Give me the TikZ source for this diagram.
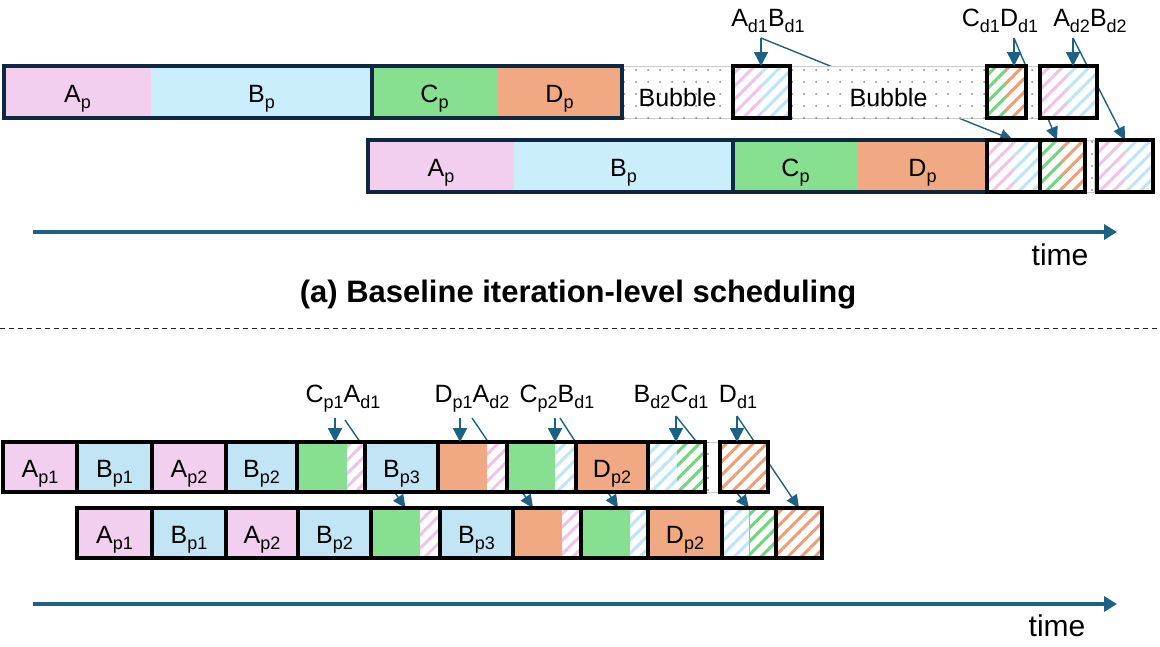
\documentclass[tikz,border=0pt]{standalone}
\usepackage{fontspec}
\setmainfont{Liberation Sans}
\usetikzlibrary{arrows.meta,patterns.meta,calc}
\definecolor{cpink}{HTML}{F2CEEF}
\definecolor{cblue}{HTML}{CAEEFB}
\definecolor{cblueb}{HTML}{C1E5F5}
\definecolor{cgreen}{HTML}{86E08F}
\definecolor{corange}{HTML}{F1A983}
\definecolor{hpink}{HTML}{EFC2EB}
\definecolor{hblue}{HTML}{BDE5F8}
\definecolor{hgreen}{HTML}{6ED77B}
\definecolor{horange}{HTML}{EF9E74}
\definecolor{navy}{HTML}{0E2841}
\definecolor{arr}{HTML}{1D6185}
\newcommand\lsub[1]{\raisebox{-0.24em}{\fontsize{18}{18}\selectfont #1}}
\newcommand\bx[7]{\pgfmathsetmacro\bxw{#4-#2}\pgfmathsetmacro\bxh{#5-#3}\node[seg,minimum width=\bxw pt,minimum height=\bxh pt,#6] (#1) at (#2,#3) {#7};}
\pgfdeclarelayer{bg}
\pgfsetlayers{bg,main}
\begin{document}
\begin{tikzpicture}[x=1pt,y=-1pt,
  seg/.style={anchor=north west,inner sep=0pt,outer sep=0pt,text height=22pt,text depth=2pt,font=\fontsize{25}{30}\selectfont},
  hatch/.style={fill=white,postaction={pattern={Lines[angle=45,distance=9.5pt,line width=3pt]},pattern color=#1}},
  dotbg/.style={fill=white,draw=black!20,line width=0.7pt,postaction={pattern={Dots[distance=12pt,radius=1pt]},pattern color=black!50}},
  bubtext/.style={text height=28pt,text depth=0pt},
  tframe/.style={draw=navy,line width=3.4pt},
  kframe/.style={draw=black,line width=3.4pt},
  lab/.style={anchor=base,inner sep=0pt,font=\fontsize{25}{30}\selectfont},
  varr/.style={draw=arr,line width=#1,-{Triangle[length=14pt,width=14pt]}},
  varr/.default=2.2pt,
  darr/.style={draw=arr,line width=1.4pt,-{Triangle[length=13pt,width=12pt]}},
  tarr/.style={draw=arr,line width=3.8pt,-{Triangle[length=13pt,width=15pt]}},
]
\useasboundingbox (0,0) rectangle (1160,646);

% ================= TOP: baseline =================
% row 1
\bx{tA}{4}{66}{151}{118}{fill=cpink}{A\lsub{p}}
\bx{tB}{151}{66}{372}{118}{fill=cblue}{B\lsub{p}}
\bx{tC}{372}{66}{497}{118}{fill=cgreen}{C\lsub{p}}
\bx{tD}{497}{66}{622}{118}{fill=corange}{D\lsub{p}}
\bx{tbub1}{622}{66}{733}{118}{dotbg,bubtext}{Bubble}
\bx{thA1}{733}{66}{761}{118}{hatch=hpink}{}
\bx{thB1}{761}{66}{790}{118}{hatch=hblue}{}
\bx{tbub2}{790}{66}{987}{118}{dotbg,bubtext}{Bubble}
\bx{thC1}{987}{66}{1006}{118}{hatch=hgreen}{}
\bx{thD1}{1006}{66}{1026}{118}{hatch=horange}{}
\bx{tstrip}{1026}{66}{1038}{118}{dotbg}{}
\bx{thA2}{1040}{66}{1068}{118}{hatch=hpink}{}
\bx{thB2}{1068}{66}{1097}{118}{hatch=hblue}{}
% row 2
\bx{uA}{368}{140}{514}{192}{fill=cpink}{A\lsub{p}}
\bx{uB}{514}{140}{733}{192}{fill=cblue}{B\lsub{p}}
\bx{uC}{733}{140}{858}{192}{fill=cgreen}{C\lsub{p}}
\bx{uD}{858}{140}{987}{192}{fill=corange}{D\lsub{p}}
\bx{uhA1}{987}{140}{1013}{192}{hatch=hpink}{}
\bx{uhB1}{1013}{140}{1040}{192}{hatch=hblue}{}
\bx{uhC1}{1040}{140}{1062}{192}{hatch=hgreen}{}
\bx{uhD1}{1062}{140}{1085}{192}{hatch=horange}{}
\bx{ustrip}{1085}{140}{1094}{192}{dotbg}{}
\bx{uhA2}{1097}{140}{1125}{192}{hatch=hpink}{}
\bx{uhB2}{1125}{140}{1153}{192}{hatch=hblue}{}
% frames
\foreach \a/\b in {tA/tB,tC/tD,uA/uB,uC/uD}
  \draw[tframe] (\a.north west) rectangle (\b.south east);
\foreach \a/\b in {thA1/thB1,thC1/thD1,thA2/thB2,uhA1/uhB1,uhC1/uhD1,uhA2/uhB2}
  \draw[kframe] (\a.north west) rectangle (\b.south east);

% labels and arrows
\node[lab] (lAB1) at (768,26) {A\lsub{d1}B\lsub{d1}};
\node[lab] (lCD1) at (1000,26) {C\lsub{d1}D\lsub{d1}};
\node[lab] (lAB2) at (1090,26) {A\lsub{d2}B\lsub{d2}};
\coordinate (s1) at (761,38);
\coordinate (s2) at (1014,38);
\coordinate (s3) at (1073,38);
\draw[varr=1.5pt] (s1) -- (s1 |- thA1.north);
\draw[varr=1.5pt] (s2) -- (s2 |- thD1.north);
\draw[varr=1.5pt] (s3) -- (s3 |- thA2.north);
\begin{pgfonlayer}{bg}
\draw[darr] (s1) -- (uhB1.north west);
\draw[darr] (s2) -- ($(uhD1.north west)+(-5,0)$);
\draw[darr] (s3) -- (uhB2.north west);
\end{pgfonlayer}

% time axis
\coordinate (ta1) at (33,232);
\coordinate (tb1) at (1117,232);
\draw[tarr] (ta1) -- (tb1);
\node[font=\fontsize{30}{36}\selectfont] (time1) at (1060,255) {time};
\node[font=\fontsize{31}{36}\selectfont\bfseries] (title) at (578,295) {(a) Baseline iteration-level scheduling};

% separator
\coordinate (dl) at (0,328);
\coordinate (dr) at (1160,328);
\draw[line width=1pt,dash pattern=on 5pt off 4pt,black!85] (dl) -- (dr);

% ================= BOTTOM =================
% row 1
\bx{bA1}{3}{442}{77}{492}{fill=cpink}{A\lsub{p1}}
\bx{bB1}{77}{442}{152}{492}{fill=cblueb}{B\lsub{p1}}
\bx{bA2}{152}{442}{226}{492}{fill=cpink}{A\lsub{p2}}
\bx{bB2}{226}{442}{297}{492}{fill=cblueb}{B\lsub{p2}}
\bx{bG1}{297}{442}{347}{492}{fill=cgreen}{}
\bx{bG1h}{347}{442}{365}{492}{hatch=hpink}{}
\bx{bB3}{365}{442}{438}{492}{fill=cblueb}{B\lsub{p3}}
\bx{bO1}{438}{442}{487}{492}{fill=corange}{}
\bx{bO1h}{487}{442}{507}{492}{hatch=hpink}{}
\bx{bG2}{507}{442}{555}{492}{fill=cgreen}{}
\bx{bG2h}{555}{442}{576}{492}{hatch=hblue}{}
\bx{bD2}{576}{442}{648}{492}{fill=corange}{D\lsub{p2}}
\bx{bH1}{648}{442}{677}{492}{hatch=hblue}{}
\bx{bH1g}{677}{442}{705}{492}{hatch=hgreen}{}
\bx{bstrip}{705}{442}{720}{492}{dotbg}{}
\bx{bDd}{720}{442}{768}{492}{hatch=horange}{}
% row 2
\bx{cA1}{77}{508}{152}{558}{fill=cpink}{A\lsub{p1}}
\bx{cB1}{152}{508}{226}{558}{fill=cblueb}{B\lsub{p1}}
\bx{cA2}{226}{508}{298}{558}{fill=cpink}{A\lsub{p2}}
\bx{cB2}{298}{508}{371}{558}{fill=cblueb}{B\lsub{p2}}
\bx{cG1}{371}{508}{420}{558}{fill=cgreen}{}
\bx{cG1h}{420}{508}{440}{558}{hatch=hpink}{}
\bx{cB3}{440}{508}{513}{558}{fill=cblueb}{B\lsub{p3}}
\bx{cO1}{513}{508}{562}{558}{fill=corange}{}
\bx{cO1h}{562}{508}{581}{558}{hatch=hpink}{}
\bx{cG2}{581}{508}{630}{558}{fill=cgreen}{}
\bx{cG2h}{630}{508}{648}{558}{hatch=hblue}{}
\bx{cD2}{648}{508}{722}{558}{fill=corange}{D\lsub{p2}}
\bx{cH1}{722}{508}{749}{558}{hatch=hblue}{}
\bx{cH1g}{749}{508}{776}{558}{hatch=hgreen}{}
\bx{cDd}{776}{508}{822}{558}{hatch=horange}{}
\draw[black!30,line width=0.8pt] (cH1.north east) -- (cH1.south east);
% frames
\foreach \a/\b in {bA1/bA1,bB1/bB1,bA2/bA2,bB2/bB2,bG1/bG1h,bB3/bB3,bO1/bO1h,bG2/bG2h,bD2/bD2,bH1/bH1g,bDd/bDd,
                   cA1/cA1,cB1/cB1,cA2/cA2,cB2/cB2,cG1/cG1h,cB3/cB3,cO1/cO1h,cG2/cG2h,cD2/cD2,cH1/cH1g,cDd/cDd}
  \draw[kframe] (\a.north west) rectangle (\b.south east);

% labels and arrows
\node[lab] (l1) at (343,402) {C\lsub{p1}A\lsub{d1}};
\node[lab] (l2) at (472,402) {D\lsub{p1}A\lsub{d2}};
\node[lab] (l3) at (557,402) {C\lsub{p2}B\lsub{d1}};
\node[lab] (l4) at (671,402) {B\lsub{d2}C\lsub{d1}};
\node[lab] (l5) at (738,402) {D\lsub{d1}};
\coordinate (q1v) at (335,418); \coordinate (q1d) at (345,420);
\coordinate (q2v) at (460,418); \coordinate (q2d) at (472,418);
\coordinate (q3v) at (555,418); \coordinate (q3d) at (560,418);
\coordinate (q4) at (676,416);
\coordinate (q5) at (737,416);
\draw[varr] (q1v) -- (q1v |- bG1.north);
\draw[varr] (q2v) -- (q2v |- bO1.north);
\draw[varr] (q3v) -- (q3v |- bG2.north);
\draw[varr=1.5pt] (q4) -- (q4 |- bH1.north);
\draw[varr=1.5pt] (q5) -- (q5 |- bDd.north);
\begin{pgfonlayer}{bg}
\draw[darr] (q1d) -- ($(cG1.north west)!0.5!(cG1h.north east)$);
\draw[darr] (q2d) -- ($(cO1.north west)+(20,0)$);
\draw[darr] (q3d) -- ($(cG2.north west)+(37,0)$);
\draw[darr] (q4) -- (cH1.north east);
\draw[darr] (q5) -- (cDd.north);
\end{pgfonlayer}

% time axis
\coordinate (ta2) at (33,604);
\coordinate (tb2) at (1117,604);
\draw[tarr] (ta2) -- (tb2);
\node[font=\fontsize{30}{36}\selectfont] (time2) at (1057,626) {time};
\end{tikzpicture}
\end{document}
